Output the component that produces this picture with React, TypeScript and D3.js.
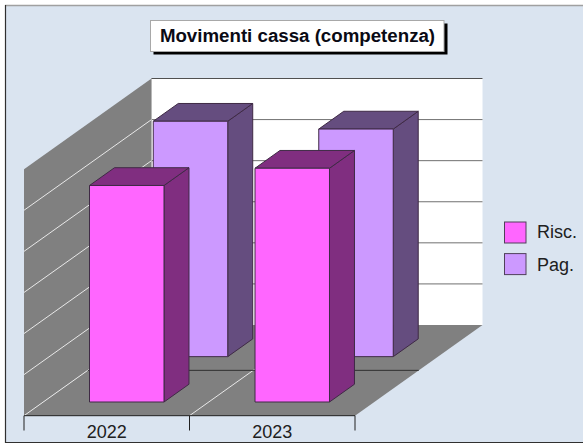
import React from "react";
import * as d3 from "d3";

const categories = ["2022", "2023"];
const seriesNames = ["Risc.", "Pag."];
const riscValues = [5.27, 5.69];
const pagValues = [5.73, 5.54];
const gridValues = [0, 1, 2, 3, 4, 5, 6];
const title = "Movimenti cassa (competenza)";
const faceColors = ["#FF66FF", "#CC99FF"];
const sideColors = ["#802E80", "#654D7F"];

const W = 583;
const H = 445;
const FONT = "'Liberation Sans', Arial, sans-serif";

// plot geometry
const xScale = d3.scaleLinear().domain([0, 2]).range([24, 355]);
const yScale = d3.scaleLinear().domain([0, 6]).range([415.7, 169.2]);
const depthX = d3.scaleLinear().domain([0, 1]).range([0, 127.5]);
const depthY = d3.scaleLinear().domain([0, 1]).range([0, -90.7]);

const project = (cat: number, val: number, depth: number): [number, number] => [
  xScale(cat) + depthX(depth),
  yScale(val) + depthY(depth),
];
const poly = (pts: [number, number][]) => d3.line()(pts)! + "Z";

const BAR_START = 0.2795;
const BAR_WIDTH = 0.45;
const SLOT_FRONT = 0.151;
const BAR_DEPTH = 0.196;
const SLOT_STEP = 0.5;

const seriesValues = [riscValues, pagValues];

function Bar({ cat, s, value }: { cat: number; s: number; value: number }) {
  const c0 = cat + BAR_START;
  const c1 = c0 + BAR_WIDTH;
  const d0 = SLOT_FRONT + s * SLOT_STEP;
  const d1 = d0 + BAR_DEPTH;
  const stroke = "#3F2A45";
  return (
    <g stroke={stroke} strokeWidth={1} strokeLinejoin="round">
      <path
        d={poly([project(c1, 0, d0), project(c1, value, d0), project(c1, value, d1), project(c1, 0, d1)])}
        fill={sideColors[s]}
      />
      <path
        d={poly([project(c0, value, d0), project(c0, value, d1), project(c1, value, d1), project(c1, value, d0)])}
        fill={sideColors[s]}
      />
      <path
        d={poly([project(c0, 0, d0), project(c0, value, d0), project(c1, value, d0), project(c1, 0, d0)])}
        fill={faceColors[s]}
      />
    </g>
  );
}

export default function App() {
  const catLines = d3.range(0, categories.length + 1);
  return (
    <svg
      width={W}
      height={H}
      viewBox={`0 0 ${W} ${H}`}
      style={{ position: "absolute", left: 0, top: 0, display: "block" }}
    >
      <rect x={0} y={0} width={W} height={H} fill="#FFFFFF" />
      <rect x={5} y={5} width={W - 5} height={437.5} fill="#DAE4F0" />
      <line x1={5} x2={W} y1={5.5} y2={5.5} stroke="#A0A0A0" strokeWidth={1.4} />
      <line x1={5.5} x2={5.5} y1={5} y2={443} stroke="#303030" strokeWidth={1.2} />
      <line x1={5} x2={W} y1={442.5} y2={442.5} stroke="#303030" strokeWidth={1.2} />

      {/* back wall */}
      <path d={poly([project(0, 0, 1), project(0, 6, 1), project(2, 6, 1), project(2, 0, 1)])} fill="#FFFFFF" />
      {/* left wall */}
      <path d={poly([project(0, 0, 0), project(0, 6, 0), project(0, 6, 1), project(0, 0, 1)])} fill="#808080" />
      {/* floor */}
      <path d={poly([project(0, 0, 0), project(2, 0, 0), project(2, 0, 1), project(0, 0, 1)])} fill="#808080" />
      <line x1={project(0, 0, 1)[0]} x2={project(0, 6, 1)[0]} y1={project(0, 0, 1)[1]} y2={project(0, 6, 1)[1]} stroke="#B8B8B8" strokeWidth={1} />

      {gridValues.slice(1).map((v) => {
        const a = project(0, v, 1);
        const b = project(2, v, 1);
        return (
          <line key={v} x1={a[0]} x2={b[0]} y1={a[1]} y2={b[1]} stroke={v === 6 ? "#505050" : "#707070"} strokeWidth={1} />
        );
      })}
      {gridValues.slice(0, -1).map((v) => {
        const a = project(0, v, 0);
        const b = project(0, v, 1);
        return <line key={v} x1={a[0]} x2={b[0]} y1={a[1]} y2={b[1]} stroke="#E8E8E8" strokeWidth={1} />;
      })}
      {/* floor lines */}
      {catLines.slice(1, -1).map((c) => {
        const a = project(c, 0, 0);
        const b = project(c, 0, 1);
        return <line key={c} x1={a[0]} x2={b[0]} y1={a[1]} y2={b[1]} stroke="#E8E8E8" strokeWidth={1} />;
      })}
      <line
        x1={project(0, 0, SLOT_STEP)[0]}
        x2={project(2, 0, SLOT_STEP)[0]}
        y1={project(0, 0, SLOT_STEP)[1]}
        y2={project(2, 0, SLOT_STEP)[1]}
        stroke="#303030"
        strokeWidth={1}
      />

      {[1, 0].map((s) =>
        categories.map((_, i) => <Bar key={`${s}-${i}`} cat={i} s={s} value={seriesValues[s][i]} />)
      )}

      {/* category axis */}
      <line x1={xScale(0)} x2={xScale(2)} y1={yScale(0)} y2={yScale(0)} stroke="#202020" strokeWidth={1} />
      {catLines.map((c) => (
        <line key={c} x1={xScale(c)} x2={xScale(c)} y1={yScale(0)} y2={430.5} stroke="#202020" strokeWidth={1} />
      ))}
      {categories.map((c, i) => (
        <text key={c} x={xScale(i + 0.5)} y={438} textAnchor="middle" fontFamily={FONT} fontSize={18} fill="#202020">
          {c}
        </text>
      ))}

      {/* title */}
      <rect x={153.5} y={23.5} width={294} height={31} fill="#000000" />
      <rect x={150.5} y={20.5} width={293.5} height={31} fill="#FFFFFF" stroke="#A8A8A8" strokeWidth={1} />
      <text x={297.5} y={42} textAnchor="middle" fontFamily={FONT} fontWeight="bold" fontSize={18.7} fill="#0A0A14">
        {title}
      </text>

      {/* legend */}
      {seriesNames.map((name, i) => (
        <g key={name}>
          <rect x={504.5} y={222 + i * 31.6} width={21.5} height={21} fill={faceColors[i]} stroke="#50405A" strokeWidth={1} />
          <text x={537} y={238 + i * 32.7} fontFamily={FONT} fontSize={18} fill="#202020">
            {name}
          </text>
        </g>
      ))}
    </svg>
  );
}
